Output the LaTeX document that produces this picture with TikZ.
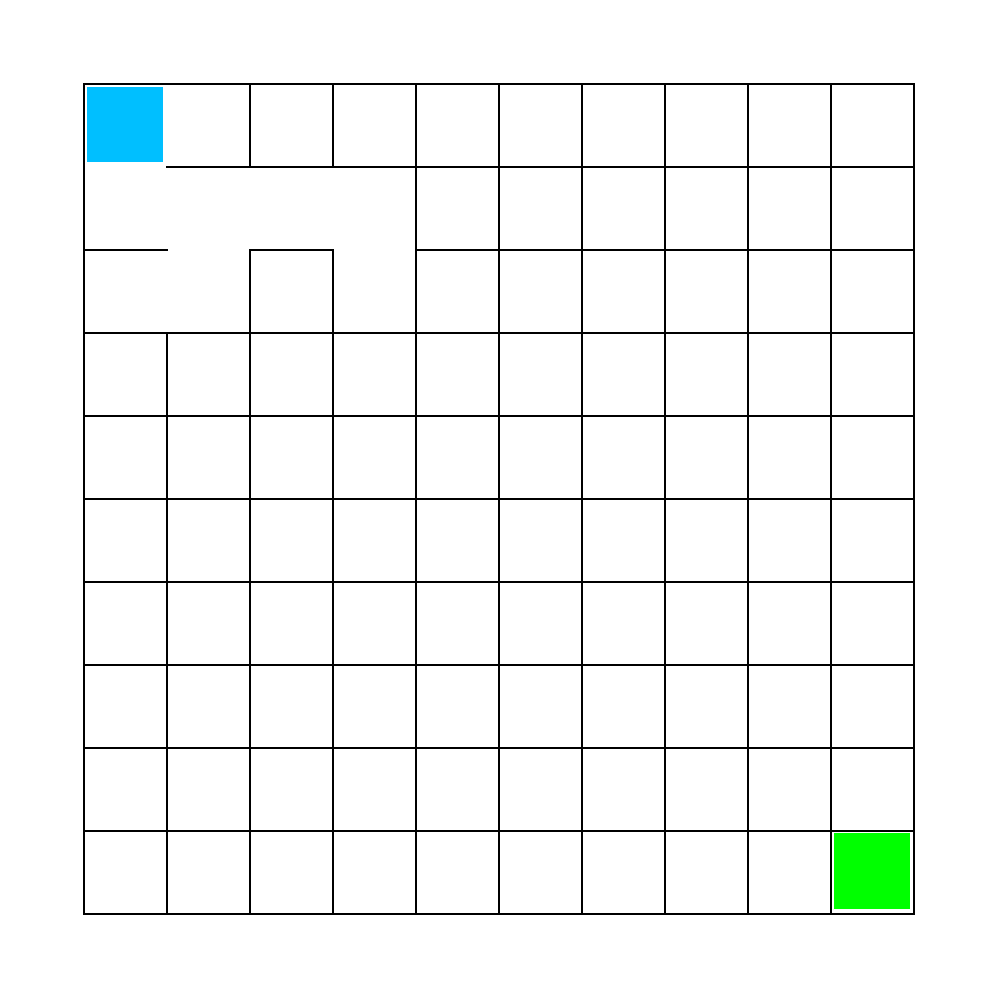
\documentclass[tikz,border=0pt]{standalone}
\usepackage{xcolor}
\definecolor{startblue}{HTML}{00BFFF}
\definecolor{goalgreen}{HTML}{00FF00}
\usepackage{tikz}
% walls that are knocked out: h<row>-<col> = top wall, v<row>-<col> = left wall
\expandafter\def\csname open h1-0\endcsname{}
\expandafter\def\csname open h2-1\endcsname{}
\expandafter\def\csname open h2-3\endcsname{}
\expandafter\def\csname open v0-1\endcsname{}
\expandafter\def\csname open v1-1\endcsname{}
\expandafter\def\csname open v1-2\endcsname{}
\expandafter\def\csname open v1-3\endcsname{}
\expandafter\def\csname open v2-1\endcsname{}

\begin{document}
\begin{tikzpicture}[
  wall/.style={draw=black, line width=0.85pt, line cap=rect},
  start/.style={fill=startblue},
  goal/.style={fill=goalgreen}
]
  \useasboundingbox (-1.012,1.012) rectangle (11.036,-11.036);

  % start and goal cells
  \path[start] (0.04,-0.04) rectangle (0.955,-0.935);
  \path[goal]  (9.04,-9.025) rectangle (9.955,-9.94);

  % horizontal walls
  \foreach \r in {0,...,10}{
    \foreach \c in {0,...,9}{
      \ifcsname open h\r-\c\endcsname\else
        \draw[wall] (\c,-\r) -- (\c+1,-\r);
      \fi
    }
  }
  % vertical walls
  \foreach \r in {0,...,9}{
    \foreach \c in {0,...,10}{
      \ifcsname open v\r-\c\endcsname\else
        \draw[wall] (\c,-\r) -- (\c,-\r-1);
      \fi
    }
  }
\end{tikzpicture}
\end{document}
